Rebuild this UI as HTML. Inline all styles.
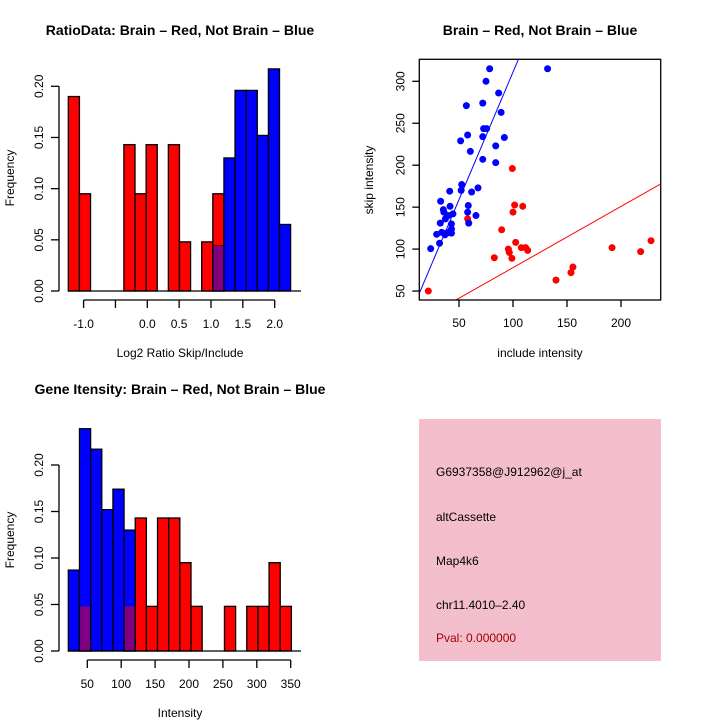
<!DOCTYPE html>
<html><head><meta charset="utf-8"><style>
html,body{margin:0;padding:0;background:#fff}
svg{display:block;font-family:"Liberation Sans",Arial,sans-serif}
</style></head><body>
<svg id="s" width="720" height="720" viewBox="0 0 720 720" xmlns="http://www.w3.org/2000/svg">
<defs>
<pattern id="pk" width="2" height="2" patternUnits="userSpaceOnUse"><rect width="2" height="2" fill="#f7b4c6"/><rect width="1" height="1" fill="#f0c8d2"/><rect x="1" y="1" width="1" height="1" fill="#f0c8d2"/></pattern>
</defs>
<g id="g1"></g>
<g id="g2"></g>
<g id="g3"></g>
<g>
<rect x="419" y="419" width="242" height="242" fill="url(#pk)"/>
<text x="436" y="476" font-size="12">G6937358@J912962@j_at</text>
<text x="436" y="521" font-size="12">altCassette</text>
<text x="436" y="565" font-size="12">Map4k6</text>
<text x="436" y="609" font-size="12">chr11.4010–2.40</text>
<text x="436" y="642" font-size="12" fill="#a00000">Pval: 0.000000</text>
</g>
</svg>
<script>
// ---- Histogram 1 data ----
const h1Start = -1.24, h1Width = 0.1745;
const h1Red = [0.19,0.095,0,0,0,0.143,0.095,0.143,0,0.143,0.048,0,0.048,0.095,0,0,0,0,0,0];
const h1Blue = [0,0,0,0,0,0,0,0,0,0,0,0,0,0.044,0.13,0.196,0.196,0.152,0.217,0.065];
const h1XTicks = [-1,-0.5,0,0.5,1,1.5,2];
const h1XLabels = ["-1.0","","0.0","0.5","1.0","1.5","2.0"];
const h1YTicks = [0,0.05,0.1,0.15,0.2];
// ---- Scatter data ----
const blueX = [132,78.4,75,86.7,72,56.8,89,72.8,75.6,72,92,58,51.5,84,60.5,72,84,41.4,52.5,52,67.6,61.7,33,41.7,58.6,35.5,36,58,65.7,44.4,40,37.4,32.7,59,43,43,34,29.3,38.6,43,32,23.8,37,41.7];
const blueY = [315,315,300,286,274,271,263,243.6,243.6,234,233,236,229,223,216.5,207,203,169,177,170,173,168,157,151,152,147,144,144,140,142,140,136,131,131,130,124,120,117.6,119,119,107,100.5,117,121];
const redX = [99.4,101.5,109,100,58,89.5,102.5,95.7,96.6,107.7,111.7,113.6,99,82.7,139.8,153.7,155.5,191.7,218.2,227.8,21.6];
const redY = [196,152.5,151,144,136,123,108,100,96,101.7,101.7,98.5,89,89.7,63,72,78.6,101.7,97,110,50];
const blueFit = [7,3.04];  // intercept, slope
const redFit = [5,0.729];
const scXTicks = [50,100,150,200];
const scYTicks = [50,100,150,200,250,300];
// ---- Histogram 3 data ----
const h3Start = 22, h3Width = 16.45;
const h3Red = [0,0.048,0,0,0,0.048,0.143,0.048,0.143,0.143,0.095,0.048,0,0,0.048,0,0.048,0.048,0.095,0.048];
const h3Blue = [0.087,0.239,0.217,0.152,0.174,0.13,0,0,0,0,0,0,0,0,0,0,0,0,0,0];
const h3XTicks = [50,100,150,200,250,300,350];
const h3YTicks = [0,0.05,0.1,0.15,0.2];

const NS="http://www.w3.org/2000/svg";
function mk(parent,tag,attrs,txt){const e=document.createElementNS(NS,tag);for(const k in attrs)e.setAttribute(k,attrs[k]);if(txt!==undefined)e.textContent=txt;parent.appendChild(e);return e;}

function hist(g,cfg){
  const X=v=>cfg.x0+(v-cfg.d0)*cfg.sx, Y=v=>cfg.y0-v*cfg.sy;
  const n=cfg.red.length;
  for(let i=0;i<n;i++){
    const a=cfg.start+i*cfg.w,b=a+cfg.w;
    if(cfg.red[i]>0){const r=mk(g,'rect',{x:X(a),y:Y(cfg.red[i]),width:X(b)-X(a),height:Y(0)-Y(cfg.red[i]),fill:'#ff0000',stroke:'#000','stroke-width':1.3});
      
      }
  }
  for(let i=0;i<n;i++){
    const a=cfg.start+i*cfg.w,b=a+cfg.w;
    if(cfg.blue[i]>0){const r=mk(g,'rect',{x:X(a),y:Y(cfg.blue[i]),width:X(b)-X(a),height:Y(0)-Y(cfg.blue[i]),fill:'#0000ff',stroke:'#000','stroke-width':1.3});
      
      }
  }
  for(let i=0;i<n;i++){
    const a=cfg.start+i*cfg.w,b=a+cfg.w;const m=Math.min(cfg.red[i],cfg.blue[i]);
    if(m>0){const r=mk(g,'rect',{x:X(a)+0.7,y:Y(m),width:X(b)-X(a)-1.4,height:Y(0)-Y(m)-0.7,fill:'#800080'});
      
      }
  }
  mk(g,'line',{x1:X(cfg.start)-0,x2:cfg.baseEnd,y1:Y(0),y2:Y(0),stroke:'#000','stroke-width':1.3});
  const xa=cfg.xt;
  mk(g,'line',{x1:X(xa[0]),x2:X(xa[xa.length-1]),y1:cfg.axY,y2:cfg.axY,stroke:'#000','stroke-width':1.3});
  xa.forEach((t,i)=>{mk(g,'line',{x1:X(t),x2:X(t),y1:cfg.axY,y2:cfg.axY+8,stroke:'#000','stroke-width':1.3});
    const lbl=cfg.xl?cfg.xl[i]:String(t);
    if(lbl){const e=mk(g,'text',{x:X(t),y:cfg.axY+28,'font-size':12,'text-anchor':'middle'},lbl);
      
      }});
  const ya=cfg.yt;
  mk(g,'line',{x1:cfg.x0y,x2:cfg.x0y,y1:Y(ya[0]),y2:Y(ya[ya.length-1]),stroke:'#000','stroke-width':1.3});
  ya.forEach(t=>{mk(g,'line',{x1:cfg.x0y,x2:cfg.x0y-8,y1:Y(t),y2:Y(t),stroke:'#000','stroke-width':1.3});
    const e=mk(g,'text',{x:cfg.x0y-16,y:Y(t),'font-size':12,'text-anchor':'middle',transform:`rotate(-90 ${cfg.x0y-16} ${Y(t)})`},t.toFixed(2));
    
    });
}

const g1=document.getElementById('g1');
hist(g1,{x0:147.3,d0:0,sx:63.7,y0:291,sy:1023.5,start:h1Start,w:h1Width,red:h1Red,blue:h1Blue,baseEnd:301,axY:300,xt:h1XTicks,xl:h1XLabels,yt:h1YTicks,x0y:59});
let t=mk(g1,'text',{x:180,y:35,'font-size':14,'font-weight':'bold','text-anchor':'middle'},'RatioData: Brain – Red, Not Brain – Blue');

t=mk(g1,'text',{x:180,y:357,'font-size':12,'text-anchor':'middle'},'Log2 Ratio Skip/Include');

t=mk(g1,'text',{x:14,y:178,'font-size':12,'text-anchor':'middle',transform:'rotate(-90 14 178)'},'Frequency');


const g3=document.getElementById('g3');
hist(g3,{x0:53.4,d0:0,sx:0.678,y0:651,sy:930,start:h3Start,w:h3Width,red:h3Red,blue:h3Blue,baseEnd:301,axY:660,xt:h3XTicks,yt:h3YTicks,x0y:59});
t=mk(g3,'text',{x:180,y:394,'font-size':14,'font-weight':'bold','text-anchor':'middle'},'Gene Itensity: Brain – Red, Not Brain – Blue');

t=mk(g3,'text',{x:180,y:717,'font-size':12,'text-anchor':'middle'},'Intensity');

t=mk(g3,'text',{x:14,y:540,'font-size':12,'text-anchor':'middle',transform:'rotate(-90 14 540)'},'Frequency');


const g2=document.getElementById('g2');
const L=419.3,R=660.7,T=59.3,B=300;
const SX=v=>405+v*1.08, SY=v=>333-v*0.839;
const cp=mk(document.querySelector('defs'),'clipPath',{id:'cp'});mk(cp,'rect',{x:L,y:T,width:R-L,height:B-T});
const pg=mk(g2,'g',{'clip-path':'url(#cp)'});
function fitLine(f,col,name){const x1=(L-405)/1.08,x2=(R-405)/1.08;
  const l=mk(pg,'line',{x1:SX(x1),y1:SY(f[0]+f[1]*x1),x2:SX(x2),y2:SY(f[0]+f[1]*x2),stroke:col,'stroke-width':1});
  }
fitLine(blueFit,'#0000ff','blue-fit-line');
fitLine(redFit,'#ff0000','red-fit-line');
redX.forEach((x,i)=>{const c=mk(pg,'circle',{cx:SX(x),cy:SY(redY[i]),r:3.5,fill:'#ff0000'});
  });
blueX.forEach((x,i)=>{const c=mk(pg,'circle',{cx:SX(x),cy:SY(blueY[i]),r:3.5,fill:'#0000ff'});
  });
mk(g2,'rect',{x:L,y:T,width:R-L,height:B-T,fill:'none',stroke:'#000','stroke-width':1.3});
scXTicks.forEach(v=>{mk(g2,'line',{x1:SX(v),x2:SX(v),y1:B,y2:B+7,stroke:'#000','stroke-width':1.3});
  const e=mk(g2,'text',{x:SX(v),y:B+27,'font-size':12,'text-anchor':'middle'},String(v));
  });
scYTicks.forEach(v=>{mk(g2,'line',{x1:L,x2:L-7,y1:SY(v),y2:SY(v),stroke:'#000','stroke-width':1.3});
  const e=mk(g2,'text',{x:L-15,y:SY(v),'font-size':12,'text-anchor':'middle',transform:`rotate(-90 ${L-15} ${SY(v)})`},String(v));
  });
t=mk(g2,'text',{x:540,y:35,'font-size':14,'font-weight':'bold','text-anchor':'middle'},'Brain – Red, Not Brain – Blue');

t=mk(g2,'text',{x:540,y:357,'font-size':12,'text-anchor':'middle'},'include intensity');

t=mk(g2,'text',{x:373,y:180,'font-size':12,'text-anchor':'middle',transform:'rotate(-90 373 180)'},'skip intensity');

</script>
</body></html>
